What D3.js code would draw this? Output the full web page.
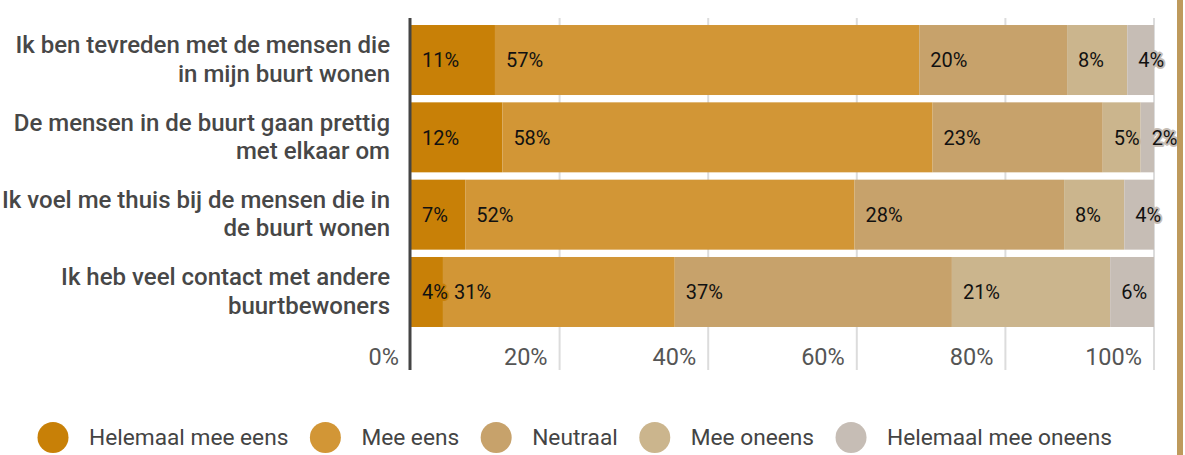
<!DOCTYPE html>
<html>
<head>
<meta charset="utf-8">
<script src="https://cdn.jsdelivr.net/npm/d3@7"></script>
<style>
  html, body { margin: 0; padding: 0; background: #fff; }
  svg { display: block; font-family: Roboto, "Noto Sans", sans-serif; }
</style>
</head>
<body>
<svg id="chart" width="1185" height="455"></svg>
<script>
// ---- data ----
const categories = [
  "Ik ben tevreden met de mensen die in mijn buurt wonen",
  "De mensen in de buurt gaan prettig met elkaar om",
  "Ik voel me thuis bij de mensen die in de buurt wonen",
  "Ik heb veel contact met andere buurtbewoners"
];
const seriesNames = ["Helemaal mee eens", "Mee eens", "Neutraal", "Mee oneens", "Helemaal mee oneens"];
const helemaalMeeEens   = [11.3, 12.3, 7.3, 4.3];
const meeEens           = [57.1, 57.9, 52.4, 31.2];
const neutraal          = [19.9, 22.9, 28.2, 37.3];
const meeOneens         = [8.1, 5.1, 8.1, 21.3];
const helemaalMeeOneens = [3.6, 1.8, 4.0, 5.9];
const tickValues = [0, 20, 40, 60, 80, 100];
const tickLabels = ["0%", "20%", "40%", "60%", "80%", "100%"];
const colors = ["#C88007", "#D29636", "#C7A26B", "#CBB58D", "#C6BDB5"];

const seriesValues = [helemaalMeeEens, meeEens, neutraal, meeOneens, helemaalMeeOneens];
const rows = categories.map((c, i) => {
  const r = { category: c };
  seriesNames.forEach((s, j) => r[s] = seriesValues[j][i]);
  return r;
});

// ---- layout ----
const svg = d3.select("#chart");
const x = d3.scaleLinear().domain([0, 100]).range([411, 1154]);
const y = d3.scaleBand().domain(categories).range([21.35, 330.65]).paddingInner(0.0948).paddingOuter(0.0474);
const gridTop = 18, gridBottom = 370;

// gridlines
svg.append("g").selectAll("line").data(tickValues.filter(d => d > 0)).join("line")
  .attr("x1", d => x(d)).attr("x2", d => x(d))
  .attr("y1", gridTop).attr("y2", gridBottom)
  .attr("stroke", "#dcdcdc").attr("stroke-width", 2);

// tick labels
svg.append("g").selectAll("text").data(tickValues).join("text")
  .attr("x", d => x(d) - 12).attr("y", 365)
  .attr("text-anchor", "end")
  .attr("font-size", 23.5).attr("fill", "#555")
  .text((d, i) => tickLabels[i]);

// stacked bars
const stack = d3.stack().keys(seriesNames)(rows);
const layers = svg.append("g").selectAll("g").data(stack).join("g")
  .attr("fill", (d, i) => colors[i]);
layers.selectAll("rect").data(d => d).join("rect")
  .attr("x", d => x(d[0]))
  .attr("y", d => y(d.data.category))
  .attr("width", d => x(d[1]) - x(d[0]))
  .attr("height", y.bandwidth());

// value labels
const labelG = svg.append("g");
stack.forEach((layer, i) => {
  labelG.append("g").selectAll("text").data(layer).join("text")
    .attr("x", d => x(d[0]) + 11)
    .attr("y", d => y(d.data.category) + y.bandwidth() / 2)
    .attr("dy", "0.36em")
    .attr("font-size", 20).attr("font-weight", 400)
    .attr("fill", "#111")
    .attr("stroke", colors[i]).attr("stroke-width", 4)
    .attr("stroke-linejoin", "round")
    .attr("paint-order", "stroke")
    .text(d => Math.round(d[1] - d[0]) + "%");
});

// axis line
svg.append("line")
  .attr("x1", 410).attr("x2", 410).attr("y1", gridTop).attr("y2", gridBottom)
  .attr("stroke", "#444").attr("stroke-width", 3);

// category labels with wrapping
const maxW = 392, lineH = 28.5, catSize = 24;
categories.forEach(c => {
  const t = svg.append("text")
    .attr("text-anchor", "end").attr("font-size", catSize).attr("font-weight", 500)
    .attr("fill", "#474747");
  const words = c.split(" ");
  const lines = [];
  let cur = [];
  const probe = svg.append("text").attr("font-size", catSize).attr("font-weight", 500);
  words.forEach(w => {
    const test = cur.concat([w]).join(" ");
    probe.text(test);
    if (cur.length && probe.node().getComputedTextLength() > maxW) {
      lines.push(cur.join(" "));
      cur = [w];
    } else cur.push(w);
  });
  lines.push(cur.join(" "));
  probe.remove();
  const cy = y(c) + y.bandwidth() / 2;
  const firstBase = cy - (lines.length - 1) * lineH / 2 + 7.5;
  lines.forEach((l, k) => {
    t.append("tspan").attr("x", 390).attr("y", firstBase + k * lineH).text(l);
  });
});

// legend
const legend = svg.append("g");
let lx = 37;
seriesNames.forEach((s, i) => {
  legend.append("circle").attr("cx", lx + 16).attr("cy", 437.5).attr("r", 15.5).attr("fill", colors[i]);
  const t = legend.append("text").attr("x", lx + 52).attr("y", 437.5).attr("dy", "0.35em")
    .attr("font-size", 22.7).attr("fill", "#444").text(s);
  lx = lx + 52 + t.node().getComputedTextLength() + 21;
});

// right border accent
svg.append("rect").attr("x", 1177).attr("y", 0).attr("width", 6).attr("height", 455).attr("fill", "#BE9A5C");
</script>
</body>
</html>
